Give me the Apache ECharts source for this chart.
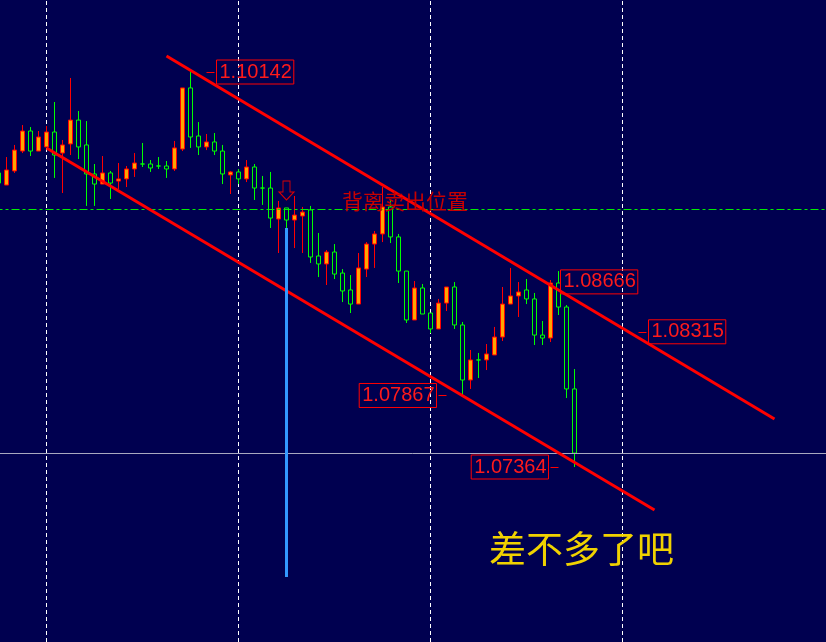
<!DOCTYPE html>
<html>
<head>
<meta charset="utf-8">
<script src="https://cdn.jsdelivr.net/npm/echarts@6/dist/echarts.min.js"></script>
<style>html,body{margin:0;padding:0;background:#000050;}#c{width:826px;height:642px;}</style>
</head>
<body>
<div id="c"></div>
<script>
// Bars: B-1 .. B102 (B72+ are empty future slots of the chart)
const categories = Array.from({length: 104}, (_, i) => 'B' + (i - 1));

// [open, close, low, high] for bars B-1 .. B71
const candles = [
[1.09432,1.09361,1.09340,1.09453],
[1.09347,1.09453,1.09347,1.09544],
[1.09446,1.09593,1.09432,1.09629],
[1.09586,1.09727,1.09572,1.09769],
[1.09727,1.09586,1.09551,1.09755],
[1.09586,1.09685,1.09586,1.09727],
[1.09615,1.09720,1.09615,1.09762],
[1.09720,1.09558,1.09397,1.09931],
[1.09572,1.09629,1.09291,1.09664],
[1.09636,1.09804,1.09558,1.10100],
[1.09804,1.09615,1.09530,1.09868],
[1.09629,1.09425,1.09200,1.09797],
[1.09425,1.09354,1.09200,1.09495],
[1.09354,1.09432,1.09354,1.09551],
[1.09432,1.09361,1.09249,1.09446],
[1.09375,1.09390,1.09319,1.09502],
[1.09390,1.09460,1.09333,1.09481],
[1.09460,1.09502,1.09404,1.09572],
[1.09495,1.09495,1.09474,1.09643],
[1.09495,1.09467,1.09439,1.09523],
[1.09481,1.09481,1.09460,1.09544],
[1.09481,1.09460,1.09397,1.09516],
[1.09460,1.09608,1.09446,1.09657],
[1.09600,1.10030,1.09586,1.10030],
[1.10030,1.09685,1.09608,1.10142],
[1.09692,1.09615,1.09558,1.09790],
[1.09615,1.09650,1.09593,1.09706],
[1.09650,1.09586,1.09558,1.09713],
[1.09586,1.09425,1.09354,1.09629],
[1.09418,1.09439,1.09284,1.09446],
[1.09439,1.09390,1.09354,1.09460],
[1.09390,1.09474,1.09368,1.09523],
[1.09474,1.09326,1.09242,1.09495],
[1.09326,1.09326,1.09207,1.09411],
[1.09326,1.09115,1.09045,1.09439],
[1.09108,1.09186,1.08869,1.09235],
[1.09186,1.09101,1.09045,1.09186],
[1.09101,1.09136,1.08904,1.09270],
[1.09129,1.09157,1.08869,1.09193],
[1.09172,1.08841,1.08799,1.09200],
[1.08848,1.08792,1.08700,1.09010],
[1.08792,1.08876,1.08644,1.08890],
[1.08876,1.08721,1.08686,1.08932],
[1.08728,1.08602,1.08524,1.08756],
[1.08609,1.08510,1.08447,1.08714],
[1.08510,1.08764,1.08510,1.08869],
[1.08756,1.08932,1.08700,1.08946],
[1.08932,1.09003,1.08764,1.09024],
[1.09003,1.09193,1.08946,1.09333],
[1.09193,1.08982,1.08939,1.09242],
[1.08982,1.08742,1.08658,1.09003],
[1.08742,1.08398,1.08377,1.08742],
[1.08398,1.08623,1.08398,1.08672],
[1.08623,1.08440,1.08440,1.08651],
[1.08447,1.08335,1.08306,1.08447],
[1.08335,1.08517,1.08335,1.08546],
[1.08517,1.08630,1.08461,1.08630],
[1.08630,1.08363,1.08335,1.08665],
[1.08363,1.07976,1.07867,1.08384],
[1.07976,1.08117,1.07913,1.08187],
[1.08117,1.08117,1.07990,1.08166],
[1.08117,1.08159,1.08046,1.08229],
[1.08152,1.08278,1.08152,1.08349],
[1.08278,1.08510,1.08250,1.08630],
[1.08510,1.08567,1.08510,1.08764],
[1.08567,1.08595,1.08419,1.08665],
[1.08609,1.08546,1.08510,1.08686],
[1.08546,1.08292,1.08222,1.08588],
[1.08292,1.08271,1.08222,1.08391],
[1.08271,1.08658,1.08243,1.08679],
[1.08658,1.08489,1.08433,1.08742],
[1.08489,1.07913,1.07849,1.08503],
[1.07913,1.07462,1.07364,1.08053]
];

// channel lines: [bar, price] endpoints
const upperChannel = [['B20', 1.10255], ['B96', 1.07702]];
const lowerChannel = [['B5', 1.09608], ['B81', 1.07062]];
// signal bar vertical line
const signalLine = [['B35', 1.09045], ['B35', 1.06590]];
const arrowPoint = ['B35', 1.09309];
// horizontal levels
const currentPrice = 1.07462;
const dashLevel = 1.09179;
// vertical grid bars
const gridBars = ['B5', 'B29', 'B53', 'B77'];
// price labels
const priceLabelText = ['1.10142', '1.08666', '1.08315', '1.07867', '1.07364'];
const priceLabelValue = [1.10142, 1.08666, 1.08315, 1.07867, 1.07364];
const priceLabelBar = ['B26', 'B69', 'B80', 'B54', 'B68'];
const priceLabelTick = [['B25', 'B26'], ['B69', 'B69'], ['B79', 'B80'], ['B54', 'B55'], ['B68', 'B69']];
const priceLabelSide = ['right', 'right', 'right', 'left', 'left'];

const Y_MAX = 1.106484, Y_MIN = 1.061333;

const chart = echarts.init(document.getElementById('c'), null, {renderer: 'canvas'});

const labelPoints = priceLabelText.map((t, i) => ({
  coord: [priceLabelBar[i], priceLabelValue[i]],
  value: t,
  symbol: 'rect',
  symbolSize: 0,
  label: {
    show: true, position: priceLabelSide[i], distance: 2,
    formatter: t,
    color: '#ff1a1a', fontSize: 20, fontFamily: '"Liberation Sans", Arial, sans-serif',
    borderColor: '#ff0000', borderWidth: 1, padding: [2, 2, 1, 3], lineHeight: 21
  }
}));

const tickLines = [];
priceLabelTick.forEach((t, i) => {
  if (t[0] !== t[1]) {
    tickLines.push([
      {coord: [t[0], priceLabelValue[i]], lineStyle: {color: '#ff0000', width: 1, type: 'solid'}},
      {coord: [t[1], priceLabelValue[i]]}
    ]);
  }
});

const redLine = {color: '#ff0000', width: 3, type: 'solid'};

chart.setOption({
  backgroundColor: '#000050',
  animation: false,
  grid: {left: -5.5, top: 0, width: 832, height: 642, outerBoundsMode: 'none', containLabel: false},
  xAxis: {type: 'category', data: categories, show: false, boundaryGap: true},
  yAxis: {type: 'value', min: Y_MIN, max: Y_MAX, show: false, splitLine: {show: false}},
  series: [
    {
      type: 'line', data: [], silent: true, z: 1,
      markLine: {
        z: 1, silent: true, symbol: ['none', 'none'], label: {show: false}, precision: 6,
        data: gridBars.map(b => ({xAxis: b, lineStyle: {color: '#ffffff', width: 1, type: [4, 3]}}))
      }
    },
    {
      type: 'candlestick',
      data: candles,
      barWidth: 4,
      z: 3,
      itemStyle: {
        color: '#ffa500', color0: '#000050',
        borderColor: '#ff0000', borderColor0: '#00ff00',
        borderColorDoji: '#00ff00',
        borderWidth: 1
      },
      markLine: {
        silent: true, symbol: ['none', 'none'], label: {show: false}, precision: 6,
        data: [
          {yAxis: currentPrice, lineStyle: {color: '#a8a8c0', width: 1, type: 'solid'}},
          {yAxis: dashLevel, lineStyle: {color: '#00ee00', width: 1, type: [8, 3, 3, 3]}},
          [{coord: upperChannel[0], lineStyle: redLine}, {coord: upperChannel[1]}],
          [{coord: lowerChannel[0], lineStyle: redLine}, {coord: lowerChannel[1]}],
          [{coord: signalLine[0], lineStyle: {color: '#3399ff', width: 3, type: 'solid'}}, {coord: signalLine[1]}],
          ...tickLines
        ]
      },
      markPoint: {
        silent: true,
        data: [
          ...labelPoints,
          {
            coord: arrowPoint, value: '',
            symbol: 'path://M4 0 L11 0 L11 11 L15 11 L7.5 19 L0 11 L4 11 Z',
            symbolSize: [15, 19],
            itemStyle: {color: 'rgba(0,0,0,0)', borderColor: '#e00000', borderWidth: 1},
            label: {show: false}
          }
        ]
      }
    }
  ],
  graphic: [
    {type: 'text', left: 342, top: 191, z: 10,
     style: {text: '背离卖出位置', fill: '#c80000', font: '21px "Noto Sans CJK SC"'}},
    {type: 'text', left: 489, top: 530, z: 10,
     style: {text: '差不多了吧', fill: '#f0d200', font: '37px "Noto Sans CJK SC"'}}
  ]
});
</script>
</body>
</html>
